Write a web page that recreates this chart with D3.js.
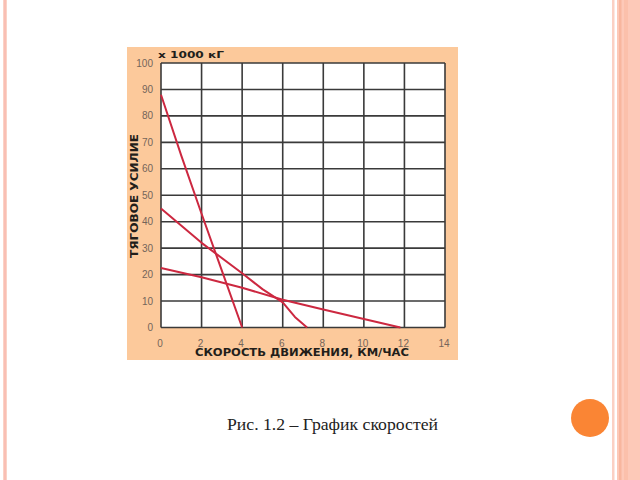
<!DOCTYPE html>
<html><head><meta charset="utf-8">
<script src="https://cdn.jsdelivr.net/npm/d3@7"></script>
<style>html,body{margin:0;padding:0;background:#fff;}svg{display:block;}</style>
</head><body>
<svg id="c" width="640" height="480"></svg>
<script>
const xTicks = [0, 2, 4, 6, 8, 10, 12, 14];
const yTicks = [0, 10, 20, 30, 40, 50, 60, 70, 80, 90, 100];
const line1 = [[0, 88], [1, 65], [2, 43], [3, 21.5], [4, 0]];
const line2 = [[0, 45], [2, 32], [4, 20.5], [5, 14.5], [6, 9.5], [6.6, 4], [7.2, 0]];
const line3 = [[0, 22.5], [2, 19], [4, 15], [6, 10.5], [8, 6.8], [10, 3.2], [11.8, 0]];
const series = [line1, line2, line3];
const yTitle = "ТЯГОВОЕ УСИЛИЕ";
const xTitle = "СКОРОСТЬ  ДВИЖЕНИЯ,  КМ/ЧАС";
const unitLabel = "х 1000  кГ";
const caption = "Рис. 1.2 – График скоростей";

const svg = d3.select("#c");

// slide decorations
svg.append("rect").attr("x", 3).attr("y", 0).attr("width", 4).attr("height", 480).attr("fill", "#fbd3c6");
svg.append("rect").attr("x", 4).attr("y", 0).attr("width", 2).attr("height", 480).attr("fill", "#f9bfb4");
svg.append("rect").attr("x", 612).attr("y", 0).attr("width", 2.5).attr("height", 480).attr("fill", "#fbd0c3");
svg.append("rect").attr("x", 617).attr("y", 0).attr("width", 23).attr("height", 480).attr("fill", "#fdc9b8");
svg.append("rect").attr("x", 619).attr("y", 0).attr("width", 2.5).attr("height", 480).attr("fill", "#f8b69e");
svg.append("rect").attr("x", 624).attr("y", 0).attr("width", 4).attr("height", 480).attr("fill", "#fbc0ab");
svg.append("circle").attr("cx", 590).attr("cy", 418).attr("r", 19).attr("fill", "#fa8534");

// chart image background
svg.append("rect").attr("x", 127).attr("y", 47).attr("width", 331).attr("height", 313).attr("fill", "#fcc99b");

const x = d3.scaleLinear().domain([0, 14]).range([161, 445]);
const y = d3.scaleLinear().domain([0, 100]).range([327.5, 63]);

svg.append("rect").attr("x", x(0)).attr("y", y(100)).attr("width", x(14) - x(0)).attr("height", y(0) - y(100)).attr("fill", "#ffffff");

const g = svg.append("g");
g.selectAll("line.vx").data(xTicks).join("line").attr("class", "vx")
  .attr("x1", d => x(d)).attr("x2", d => x(d)).attr("y1", y(0)).attr("y2", y(100))
  .attr("stroke", "#3a3a3a").attr("stroke-width", 1.6);
g.selectAll("line.hy").data(yTicks).join("line").attr("class", "hy")
  .attr("x1", x(0)).attr("x2", x(14)).attr("y1", d => y(d)).attr("y2", d => y(d))
  .attr("stroke", "#3a3a3a").attr("stroke-width", 1.6);

// tick labels
svg.selectAll("text.yt").data(yTicks).join("text").attr("class", "yt")
  .attr("x", 153).attr("y", d => y(d) + 3.5).attr("text-anchor", "end")
  .attr("font-family", "Liberation Sans, Arial, sans-serif").attr("font-size", 10)
  .attr("fill", "#74655a").text(d => d);
svg.selectAll("text.xt").data(xTicks).join("text").attr("class", "xt")
  .attr("x", d => x(d) - 1).attr("y", 346.5).attr("text-anchor", "middle")
  .attr("font-family", "Liberation Sans, Arial, sans-serif").attr("font-size", 10)
  .attr("fill", "#74655a").text(d => d);

// lines
const lineGen = d3.line().x(d => x(d[0])).y(d => y(d[1]));
svg.selectAll("path.s").data(series).join("path").attr("class", "s")
  .attr("d", lineGen).attr("fill", "none").attr("stroke", "#cc2840")
  .attr("stroke-width", 2).attr("stroke-linejoin", "round");

// titles
const boldFamily = "DejaVu Sans, Liberation Sans, sans-serif";
svg.append("text").attr("x", 158).attr("y", 58).attr("font-family", boldFamily)
  .attr("font-weight", "bold").attr("font-size", 9.5).attr("fill", "#221e1a")
  .attr("textLength", 66).attr("lengthAdjust", "spacingAndGlyphs").text(unitLabel);
svg.append("text").attr("x", 195).attr("y", 356).attr("font-family", boldFamily)
  .attr("font-weight", "bold").attr("font-size", 10).attr("fill", "#221e1a")
  .attr("textLength", 214).attr("lengthAdjust", "spacingAndGlyphs").text(xTitle);
svg.append("text").attr("transform", "translate(138,258) rotate(-90)")
  .attr("font-family", boldFamily).attr("font-weight", "bold").attr("font-size", 10)
  .attr("fill", "#221e1a").attr("textLength", 124).attr("lengthAdjust", "spacingAndGlyphs").text(yTitle);

// caption
svg.append("text").attr("x", 227).attr("y", 430).attr("font-family", "Liberation Serif, Times New Roman, serif")
  .attr("font-size", 17.5).attr("fill", "#222")
  .attr("textLength", 211).attr("lengthAdjust", "spacingAndGlyphs").text(caption);
</script>
</body></html>
